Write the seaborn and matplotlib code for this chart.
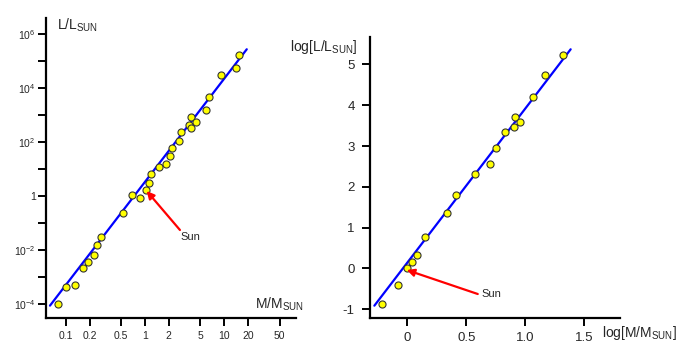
import numpy as np
import pandas as pd
import matplotlib
matplotlib.use("Agg")
import matplotlib.pyplot as plt
from matplotlib.ticker import FixedLocator, FixedFormatter, NullLocator
import seaborn as sns

# ---- data: left panel (linear values on log axes) ----
mass = [15.45, 14.16, 9.02, 6.47, 5.93, 3.80, 4.40, 3.59, 3.77, 2.84, 2.71, 2.19,
        2.08, 1.82, 1.50, 1.19, 1.13, 1.02, 0.679, 0.873, 0.532, 0.281, 0.246,
        0.225, 0.193, 0.164, 0.130, 0.102, 0.0807]
lum = [1.67e5, 5.4e4, 2.9e4, 4560, 1510, 809, 527, 419, 333, 225, 104, 60,
       29.6, 14.8, 12.0, 6.46, 2.92, 1.65, 1.05, 0.815, 0.239, 0.0294, 0.0156,
       0.0065, 0.00358, 0.0022, 4.9e-4, 4.26e-4, 1.0e-4]
fit_mass = [0.0634, 19.2]
fit_lum = [8.7e-5, 2.65e5]

# ---- data: right panel (log values) ----
log_mass = [1.324, 1.169, 1.070, 0.912, 0.957, 0.906, 0.827, 0.750, 0.702,
            0.572, 0.411, 0.340, 0.153, 0.085, 0.040, -0.005, -0.076, -0.215]
log_lum = [5.236, 4.732, 4.208, 3.703, 3.581, 3.458, 3.336, 2.959, 2.552,
           2.307, 1.793, 1.367, 0.764, 0.338, 0.159, 0.020, -0.411, -0.877]
fit_log_mass = [-0.280, 1.387]
fit_log_lum = [-0.911, 5.369]

left_xticks = [0.1, 0.2, 0.5, 1, 2, 5, 10, 20, 50]
left_xticklabels = ["0.1", "0.2", "0.5", "1", "2", "5", "10", "20", "50"]
left_yticks = [1e-4, 1e-3, 1e-2, 1e-1, 1, 1e1, 1e2, 1e3, 1e4, 1e5, 1e6]
left_yticklabels = ["$10^{-4}$", "", "$10^{-2}$", "", "1", "", "$10^{2}$", "",
                    "$10^{4}$", "", "$10^{6}$"]
right_xticks = [0, 0.5, 1.0, 1.5]
right_xticklabels = ["0", "0.5", "1.0", "1.5"]
right_yticks = [-1, 0, 1, 2, 3, 4, 5]
right_yticklabels = ["-1", "0", "1", "2", "3", "4", "5"]

sns.set_style("ticks")
plt.rcParams["font.family"] = ["Liberation Sans", "DejaVu Sans"]
plt.rcParams["mathtext.fontset"] = "custom"
plt.rcParams["mathtext.rm"] = "Liberation Sans"
plt.rcParams["mathtext.it"] = "Liberation Sans"
plt.rcParams["mathtext.default"] = "regular"

W, H = 700, 355
fig = plt.figure(figsize=(7.0, 3.55), dpi=100)
ax1 = fig.add_axes([46 / W, 36.7 / H, 250 / W, 300.3 / H])
ax2 = fig.add_axes([370 / W, 36.7 / H, 250 / W, 281.3 / H])

df_left = pd.DataFrame({"M": mass, "L": lum})
df_lfit = pd.DataFrame({"M": fit_mass, "L": fit_lum})
df_right = pd.DataFrame({"M": log_mass, "L": log_lum})
df_rfit = pd.DataFrame({"M": fit_log_mass, "L": fit_log_lum})

marker_kw = dict(s=26, color="#ffff00", edgecolor="#333333", linewidth=0.8, zorder=3)

# ---- left panel ----
ax1.set_xscale("log")
ax1.set_yscale("log")
sns.lineplot(data=df_lfit, x="M", y="L", ax=ax1, color="#0000ff", lw=1.6, zorder=2)
sns.scatterplot(data=df_left, x="M", y="L", ax=ax1, **marker_kw)
ax1.set_xlim(0.0565, 80.2)
ax1.set_ylim(2.96e-5, 3.8e6)
ax1.xaxis.set_major_locator(FixedLocator(left_xticks))
ax1.xaxis.set_major_formatter(FixedFormatter(left_xticklabels))
ax1.xaxis.set_minor_locator(NullLocator())
ax1.yaxis.set_major_locator(FixedLocator(left_yticks))
ax1.yaxis.set_major_formatter(FixedFormatter(left_yticklabels))
ax1.yaxis.set_minor_locator(NullLocator())
ax1.tick_params(axis="both", labelsize=7.5, length=5.5, width=1.4, color="black")
ax1.tick_params(axis="x", pad=4)
ax1.tick_params(axis="y", pad=2)
ax1.annotate("", xy=(1.05, 1.52), xytext=(2.76, 0.0547),
             arrowprops=dict(arrowstyle="-|>", color="red", lw=1.6, mutation_scale=11,
                             shrinkA=0, shrinkB=0))
ax1.text(2.84, 0.029, "Sun", fontsize=8, ha="left", va="center")

# ---- right panel ----
sns.lineplot(data=df_rfit, x="M", y="L", ax=ax2, color="#0000ff", lw=1.6, zorder=2)
sns.scatterplot(data=df_right, x="M", y="L", ax=ax2, **marker_kw)
ax2.set_xlim(-0.317, 1.806)
ax2.set_ylim(-1.22, 5.67)
ax2.xaxis.set_major_locator(FixedLocator(right_xticks))
ax2.xaxis.set_major_formatter(FixedFormatter(right_xticklabels))
ax2.yaxis.set_major_locator(FixedLocator(right_yticks))
ax2.yaxis.set_major_formatter(FixedFormatter(right_yticklabels))
ax2.tick_params(axis="both", labelsize=9.5, length=6, width=1.4, color="black")
ax2.tick_params(axis="x", pad=4)
ax2.tick_params(axis="y", pad=5)
ax2.annotate("", xy=(-0.005, -0.037), xytext=(0.598, -0.625),
             arrowprops=dict(arrowstyle="-|>", color="red", lw=1.6, mutation_scale=11,
                             shrinkA=0, shrinkB=0))
ax2.text(0.632, -0.625, "Sun", fontsize=8, ha="left", va="center")

for ax in (ax1, ax2):
    sns.despine(ax=ax)
    ax.set_xlabel("")
    ax.set_ylabel("")
    for s in ("left", "bottom"):
        ax.spines[s].set_linewidth(1.6)
        ax.spines[s].set_color("black")
    ax.patch.set_alpha(0)
    if ax.get_legend():
        ax.get_legend().remove()

# ---- axis titles ----
fig.text(56.7 / W, 1 - 25 / H, "L/L$_{SUN}$", fontsize=10, ha="left", va="center")
fig.text(304 / W, 1 - 304 / H, "M/M$_{SUN}$", fontsize=10, ha="right", va="center")
fig.text(357.3 / W, 1 - 47 / H, "log[L/L$_{SUN}$]", fontsize=10, ha="right", va="center")
fig.text(602.3 / W, 1 - 333 / H, "log[M/M$_{SUN}$]", fontsize=10, ha="left", va="center")

fig.savefig("out.png", dpi=100, facecolor="white")
